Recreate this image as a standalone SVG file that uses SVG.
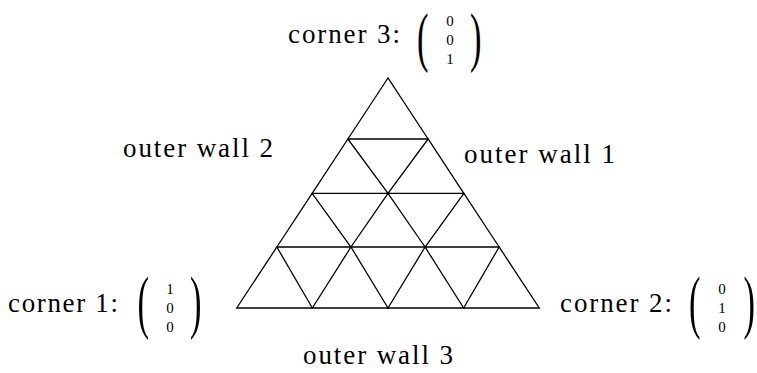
<svg xmlns="http://www.w3.org/2000/svg" width="757" height="373" viewBox="0 0 757 373">
<style>
.lbl{font-family:"Liberation Serif","Times New Roman",serif;font-size:27px;fill:#000}
.num{font-family:"Liberation Serif","Times New Roman",serif;font-size:15px;fill:#000;text-anchor:middle}
.par{font-family:"Liberation Serif","Times New Roman",serif;font-size:30px;fill:#000}
.tri{fill:none;stroke:#000;stroke-width:1.3;stroke-linejoin:miter}
</style>
<rect width="757" height="373" fill="#fff"/>
<g id="mesh">
<polygon class="tri" points="388,78 347.9,139 428.1,139"/>
<polygon class="tri" points="347.9,139 312.15,193.3 388,193.3"/>
<polygon class="tri" points="428.1,139 388,193.3 463.85,193.3"/>
<polygon class="tri" points="312.15,193.3 276.85,247 350.95,247"/>
<polygon class="tri" points="388,193.3 350.95,247 425.05,247"/>
<polygon class="tri" points="463.85,193.3 425.05,247 499.15,247"/>
<polygon class="tri" points="276.85,247 236.7,308 312.35,308"/>
<polygon class="tri" points="350.95,247 312.35,308 388,308"/>
<polygon class="tri" points="425.05,247 388,308 463.65,308"/>
<polygon class="tri" points="499.15,247 463.65,308 539.3,308"/>
</g>
<g id="corner3">
<text class="lbl" x="288" y="43" textLength="112" lengthAdjust="spacing">corner 3:</text>
<text class="par" transform="translate(417,59) scale(1.15,2.2)">(</text>
<text class="num" x="450" y="26">0</text>
<text class="num" x="450" y="45">0</text>
<text class="num" x="450" y="64">1</text>
<text class="par" transform="translate(470,59) scale(1.15,2.2)">)</text>
</g>
<g id="corner1">
<text class="lbl" x="8" y="312" textLength="110" lengthAdjust="spacing">corner 1:</text>
<text class="par" transform="translate(137.5,325) scale(1.15,2.3)">(</text>
<text class="num" x="170" y="294">1</text>
<text class="num" x="170" y="313">0</text>
<text class="num" x="170" y="332">0</text>
<text class="par" transform="translate(190,325) scale(1.15,2.3)">)</text>
</g>
<g id="corner2">
<text class="lbl" x="560" y="312" textLength="112" lengthAdjust="spacing">corner 2:</text>
<text class="par" transform="translate(689,325) scale(1.15,2.3)">(</text>
<text class="num" x="722" y="294">0</text>
<text class="num" x="722" y="313">1</text>
<text class="num" x="722" y="332">0</text>
<text class="par" transform="translate(743.5,325) scale(1.15,2.3)">)</text>
</g>
<g id="wall2">
<text class="lbl" x="123" y="157" textLength="150" lengthAdjust="spacing">outer wall 2</text>
</g>
<g id="wall1">
<text class="lbl" x="464" y="163" textLength="151" lengthAdjust="spacing">outer wall 1</text>
</g>
<g id="wall3">
<text class="lbl" x="303" y="364" textLength="150" lengthAdjust="spacing">outer wall 3</text>
</g>
</svg>
